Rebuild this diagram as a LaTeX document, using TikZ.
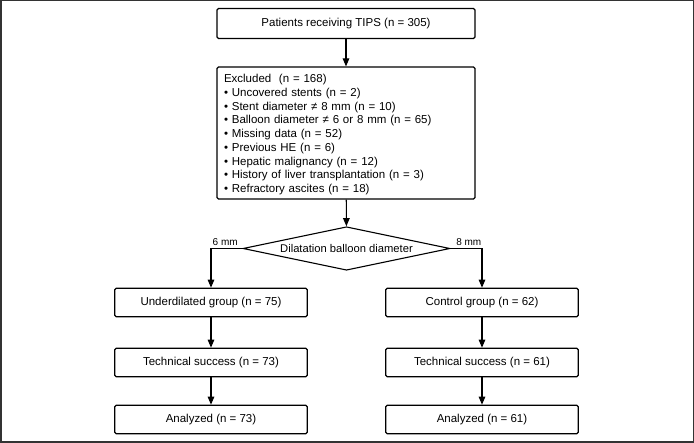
\documentclass[tikz,border=0pt]{standalone}
\usepackage{fontspec}
\setmainfont{Liberation Sans}
\usetikzlibrary{shapes.geometric,arrows.meta}
\begin{document}
\begin{tikzpicture}[x=1pt,y=-1pt,
  box/.style={draw, line width=1.1pt, rounded corners=1.5pt, inner sep=0pt, align=center,
    font=\fontsize{11.5}{13.75}\selectfont},
  arr/.style={line width=1.1pt, -{Triangle[length=8pt,width=6.5pt]}},
  lbl/.style={inner sep=0pt, font=\fontsize{10}{12}\selectfont}]
\useasboundingbox (0,0) rectangle (694,443);
\draw[line width=1.5pt, black!80] (0.75,0.75) rectangle (693.25,442.25);
\node[box, minimum width=258pt, minimum height=30pt] (top) at (346,23.5) {Patients receiving TIPS (n = 305)};
\node[box, minimum width=258pt, minimum height=132pt, text width=244pt, align=left] (exc) at (346,133)
{\rule{0pt}{11.5pt}Excluded\ \ (n = 168)\\
\textbullet\ Uncovered stents (n = 2)\\
\textbullet\ Stent diameter ≠ 8 mm (n = 10)\\
\textbullet\ Balloon diameter ≠ 6 or 8 mm (n = 65)\\
\textbullet\ Missing data (n = 52)\\
\textbullet\ Previous HE (n = 6)\\
\textbullet\ Hepatic malignancy (n = 12)\\
\textbullet\ History of liver transplantation (n = 3)\\
\textbullet\ Refractory ascites (n = 18)};
\node[draw, diamond, aspect=4.7, line width=1.1pt, inner sep=0pt, minimum width=207pt, minimum height=43.5pt,
  font=\fontsize{11.2}{13}\selectfont] (dia) at (346.5,248.5) {Dilatation balloon diameter};
\node[box, minimum width=192.5pt, minimum height=28.5pt] (ug) at (211,302.5) {Underdilated group (n = 75)};
\node[box, minimum width=192.5pt, minimum height=28.5pt] (ts1) at (211,362.5) {Technical success (n = 73)};
\node[box, minimum width=192.5pt, minimum height=28.5pt] (an1) at (211,419.5) {Analyzed (n = 73)};
\node[box, minimum width=192.5pt, minimum height=28.5pt] (cg) at (482,302.5) {Control group (n = 62)};
\node[box, minimum width=192.5pt, minimum height=28.5pt] (ts2) at (482,362.5) {Technical success (n = 61)};
\node[box, minimum width=192.5pt, minimum height=28.5pt] (an2) at (482,419.5) {Analyzed (n = 61)};
\node[lbl, anchor=south west] (l6) at (212.5,246) {6 mm};
\node[lbl, anchor=south east] (l8) at (481.5,246) {8 mm};
\draw[arr] (top) -- (exc);
\draw[arr] (exc) -- (dia);
\draw[arr] (dia.west) -| (ug.north);
\draw[arr] (dia.east) -| (cg.north);
\draw[arr] (ug) -- (ts1);
\draw[arr] (ts1) -- (an1);
\draw[arr] (cg) -- (ts2);
\draw[arr] (ts2) -- (an2);
\end{tikzpicture}
\end{document}
